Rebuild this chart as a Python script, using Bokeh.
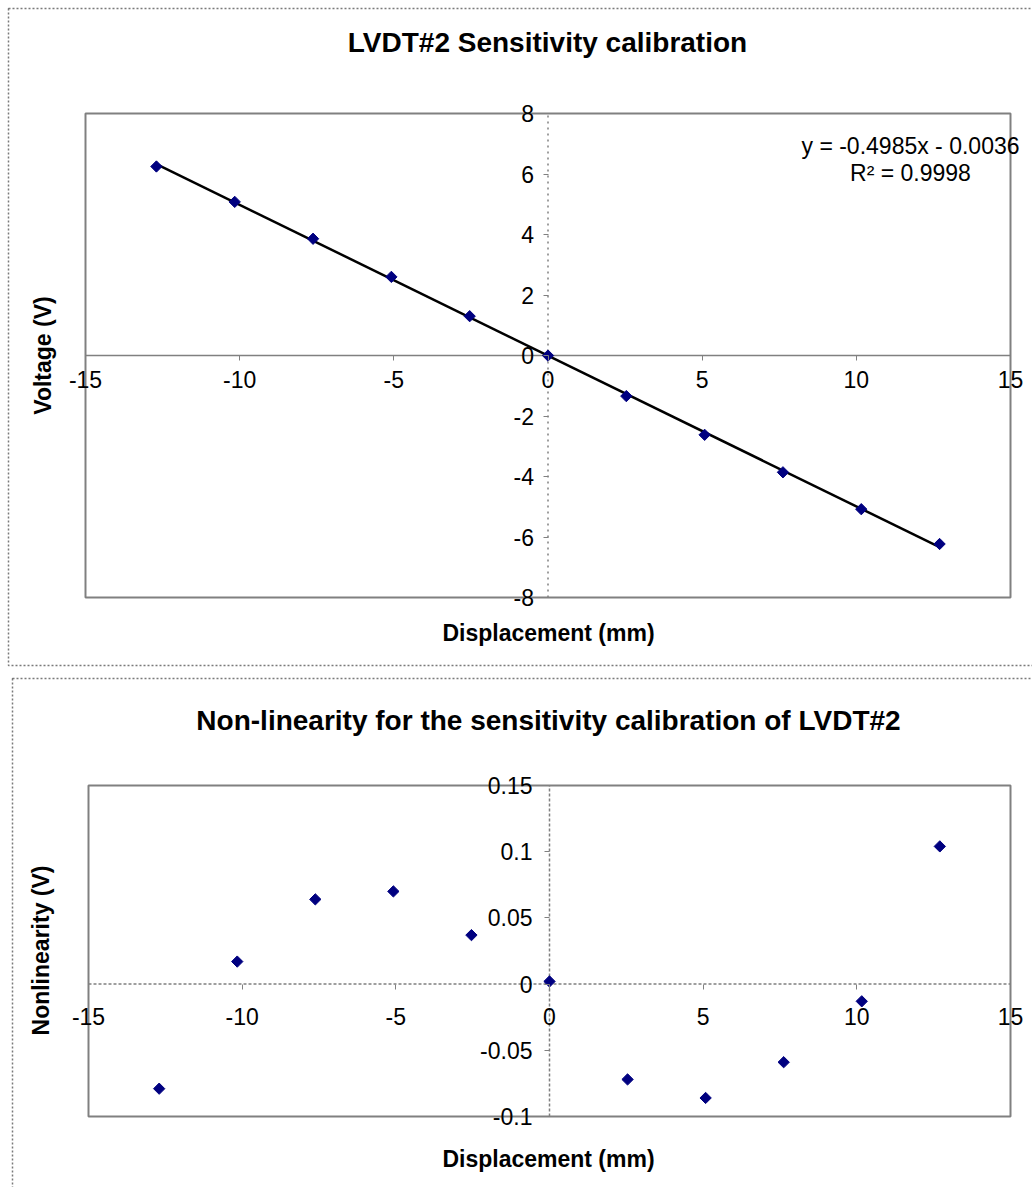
import numpy as np
from bokeh.plotting import figure
from bokeh.models import (LinearAxis, FixedTicker, Label, Range1d, CustomJSTickFormatter)
from bokeh.layouts import column
from bokeh.embed import file_html
from bokeh.resources import INLINE

# ---------------- data ----------------
displacement = [-12.7, -10.16, -7.62, -5.08, -2.54, 0.0, 2.54, 5.08, 7.62, 10.16, 12.7]
voltage = [6.248, 5.078, 3.859, 2.599, 1.300, -0.002, -1.342, -2.622, -3.861, -5.081, -6.231]
nonlinearity = [-0.079, 0.017, 0.064, 0.070, 0.037, 0.002, -0.072, -0.086, -0.059, -0.013, 0.104]
fit_slope = -0.4985
fit_intercept = -0.0036
equation_text = "y = -0.4985x - 0.0036"
r2_text = "R² = 0.9998"
x_ticks = [-15, -10, -5, 0, 5, 10, 15]
v_ticks = [-8, -6, -4, -2, 0, 2, 4, 6, 8]
nl_ticks = [-0.1, -0.05, 0, 0.05, 0.1, 0.15]
top_title = "LVDT#2 Sensitivity calibration"
bottom_title = "Non-linearity for the sensitivity calibration of LVDT#2"
x_title = "Displacement (mm)"
top_y_title = "Voltage (V)"
bottom_y_title = "Nonlinearity (V)"

FONT = "Liberation Sans"
GRAY = "#808080"
NAVY = "#000080"
W = 1032
fmt = CustomJSTickFormatter(code="return String(tick)")


class Chart:
    """A figure whose frame is the whole canvas; box = plot-area rectangle in px."""

    def __init__(self, height, box, xt, yt):
        self.H = height
        self.bl, self.bt, self.br, self.bb = box
        self.xt, self.yt = xt, yt
        self.xs = (self.br - self.bl) / (xt[-1] - xt[0])
        self.ys = (self.bb - self.bt) / (yt[-1] - yt[0])
        p = figure(width=W, height=height,
                   x_range=Range1d(self.dx(0), self.dx(W)),
                   y_range=Range1d(self.dy(height), self.dy(0)),
                   x_axis_location=None, y_axis_location=None, title=None,
                   output_backend="svg", toolbar_location=None, tools="",
                   min_border_left=0, min_border_right=0,
                   min_border_top=0, min_border_bottom=0)
        p.background_fill_color = "white"
        p.border_fill_color = "white"
        p.outline_line_color = None
        p.grid.visible = False
        self.p = p

    def dx(self, px):
        return self.xt[0] + (px - self.bl) / self.xs

    def dy(self, py):
        return self.yt[-1] - (py - self.bt) / self.ys

    def text(self, txt, px, py, size, bold=False, angle=0.0):
        self.p.add_layout(Label(x=self.dx(px), y=self.dy(py), text=txt,
                                text_align="center", text_baseline="middle",
                                angle=angle, text_font=FONT,
                                text_font_style="bold" if bold else "normal",
                                text_font_size=size, text_color="black"))

    def frame_box(self):
        xt, yt = self.xt, self.yt
        self.p.quad(left=xt[0], right=xt[-1], bottom=yt[0], top=yt[-1],
                    fill_color=None, line_color=GRAY, line_width=2)

    def outer(self, l, t, r, b):
        self.p.quad(left=self.dx(l), right=self.dx(r), top=self.dy(t), bottom=self.dy(b),
                    fill_color=None, line_color="#7a7a7a", line_width=1.5,
                    line_dash="2 2")

    def zero_lines(self, hdash, vdash):
        xt, yt = self.xt, self.yt
        self.p.line([xt[0], xt[-1]], [0, 0], line_color=GRAY, line_width=1.5, line_dash=hdash)
        self.p.line([0, 0], [yt[0], yt[-1]], line_color=GRAY, line_width=1.5, line_dash=vdash)

    def axis(self, side, ticks, standoff):
        ax = LinearAxis(ticker=FixedTicker(ticks=ticks), fixed_location=0, formatter=fmt)
        ax.axis_line_color = None
        ax.major_tick_line_color = GRAY
        ax.major_tick_line_width = 1
        ax.major_tick_out = 5
        ax.major_tick_in = 0
        ax.minor_tick_line_color = None
        ax.major_label_standoff = standoff
        ax.major_label_text_font = FONT
        ax.major_label_text_font_size = "23px"
        ax.major_label_text_color = "black"
        self.p.add_layout(ax, side)


# ---------------- top chart ----------------
c1 = Chart(671, (85, 113, 1010, 597), x_ticks, v_ticks)
c1.outer(8, 8, 1040, 665)
c1.frame_box()
c1.zero_lines("solid", "dotted")
c1.axis("below", x_ticks, 10)
c1.axis("left", v_ticks, 9)
fit_x = [displacement[0], displacement[-1]]
fit_y = [fit_slope * x + fit_intercept for x in fit_x]
c1.p.line(fit_x, fit_y, line_color="black", line_width=2.5)
c1.p.scatter(displacement, voltage, marker="square", angle=np.pi / 4, size=8,
             fill_color=NAVY, line_color=NAVY)
c1.text(top_title, 547, 42, "28px", bold=True)
c1.text(x_title, 548, 632, "23px", bold=True)
c1.text(top_y_title, 42, 355, "23px", bold=True, angle=np.pi / 2)
c1.text(equation_text, 910, 145, "23px")
c1.text(r2_text, 910, 172, "23px")

# ---------------- bottom chart ----------------
c2 = Chart(516, (88, 114, 1010, 445), x_ticks, nl_ticks)
c2.outer(12, 7, 1040, 530)
c2.frame_box()
c2.zero_lines("3 2", "3 2")
c2.axis("below", x_ticks, 19)
c2.axis("left", nl_ticks, 12)
c2.p.scatter(displacement, nonlinearity, marker="square", angle=np.pi / 4, size=8,
             fill_color=NAVY, line_color=NAVY)
c2.text(bottom_title, 548, 49, "28px", bold=True)
c2.text(x_title, 548, 487, "23px", bold=True)
c2.text(bottom_y_title, 40, 279, "23px", bold=True, angle=np.pi / 2)

layout = column(c1.p, c2.p, spacing=0)
open("out.html", "w").write(file_html(layout, INLINE))
